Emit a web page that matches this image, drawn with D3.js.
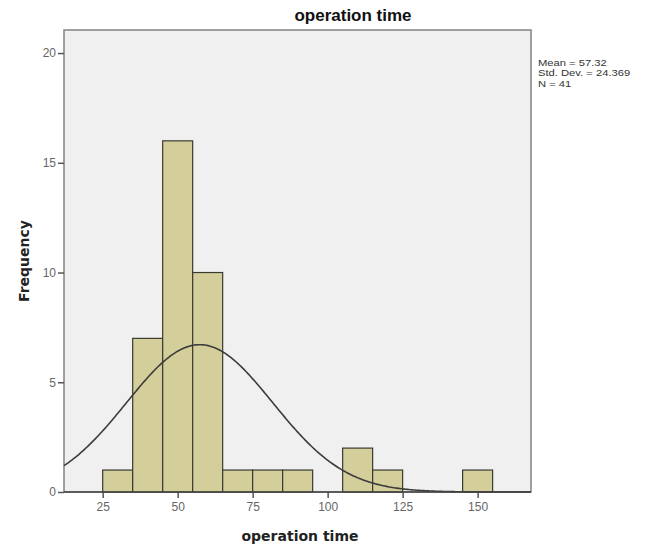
<!DOCTYPE html>
<html>
<head>
<meta charset="utf-8">
<script src="https://cdn.jsdelivr.net/npm/d3@7"></script>
<style>
  body { margin: 0; background: #fff; }
  svg { display: block; }
</style>
</head>
<body>
<div id="chart"></div>
<script>
// histogram bins (lower edge, width 10) and counts
const binLower = [25, 35, 45, 55, 65, 75, 85, 95, 105, 115, 125, 135, 145];
const binCounts = [1, 7, 16, 10, 1, 1, 1, 0, 2, 1, 0, 0, 1];
const binWidth = 10;
const xTicks = [25, 50, 75, 100, 125, 150];
const yTicks = [0, 5, 10, 15, 20];
const statMean = 57.32;
const statSd = 24.369;
const statN = 41;
const statLines = ['Mean = 57.32', 'Std. Dev. = 24.369', 'N = 41'];

const W = 653, H = 545;
const plotL = 64, plotR = 531, plotT = 30, plotB = 492;

const svg = d3.select('#chart').append('svg')
    .attr('width', W)
    .attr('height', H);

const x = d3.scaleLinear().domain([12.1, 167.8]).range([plotL, plotR]);
const y = d3.scaleLinear().domain([0, 21.05]).range([plotB, plotT]);

// plot background + frame
svg.append('rect')
    .attr('x', plotL).attr('y', plotT)
    .attr('width', plotR - plotL).attr('height', plotB - plotT)
    .attr('fill', '#f0f0f0')
    .attr('stroke', '#8a8a8a')
    .attr('stroke-width', 1.6);

// bars
svg.append('g').selectAll('rect')
    .data(binLower.map((b, i) => ({b: b, c: binCounts[i]})).filter(d => d.c > 0))
    .join('rect')
    .attr('x', d => x(d.b))
    .attr('y', d => y(d.c))
    .attr('width', d => x(d.b + binWidth) - x(d.b))
    .attr('height', d => y(0) - y(d.c))
    .attr('fill', '#d3ce9a')
    .attr('stroke', '#3a3a30')
    .attr('stroke-width', 1.2);

// normal curve scaled to counts
const pts = d3.range(x.domain()[0], x.domain()[1] + 0.01, 0.5).map(v => {
    const z = (v - statMean) / statSd;
    return [v, statN * binWidth * Math.exp(-0.5 * z * z) / (statSd * Math.sqrt(2 * Math.PI))];
});
svg.append('path')
    .datum(pts)
    .attr('fill', 'none')
    .attr('stroke', '#3c3c3c')
    .attr('stroke-width', 1.6)
    .attr('d', d3.line().x(d => x(d[0])).y(d => y(d[1])));

// axes
const xAxis = svg.append('g')
    .attr('transform', `translate(0,${plotB})`)
    .call(d3.axisBottom(x).tickValues(xTicks).tickSize(6).tickPadding(4).tickSizeOuter(0));
const yAxis = svg.append('g')
    .attr('transform', `translate(${plotL},0)`)
    .call(d3.axisLeft(y).tickValues(yTicks).tickSize(6).tickPadding(2).tickSizeOuter(0));

[xAxis, yAxis].forEach(a => {
    a.select('.domain').remove();
    a.selectAll('line').attr('stroke', '#555').attr('stroke-width', 1.5);
    a.selectAll('text')
        .attr('fill', '#666')
        .style('font-family', 'Liberation Sans, Arial, sans-serif')
        .style('font-size', '12px');
});

// baseline
svg.append('line')
    .attr('x1', plotL).attr('x2', plotR)
    .attr('y1', y(0)).attr('y2', y(0))
    .attr('stroke', '#444')
    .attr('stroke-width', 1.6);

// title
svg.append('text')
    .attr('x', 353).attr('y', 21)
    .attr('text-anchor', 'middle')
    .style('font-family', 'Liberation Sans, Arial, sans-serif')
    .style('font-weight', 'bold')
    .style('font-size', '17px')
    .attr('fill', '#111')
    .text('operation time');

// axis titles
svg.append('text')
    .attr('x', 300).attr('y', 541)
    .attr('text-anchor', 'middle')
    .style('font-family', 'DejaVu Sans, sans-serif')
    .style('font-weight', 'bold')
    .style('font-size', '14px')
    .attr('fill', '#222')
    .text('operation time');

svg.append('text')
    .attr('transform', 'translate(29,261) rotate(-90)')
    .attr('text-anchor', 'middle')
    .style('font-family', 'DejaVu Sans, sans-serif')
    .style('font-weight', 'bold')
    .style('font-size', '14px')
    .attr('fill', '#222')
    .text('Frequency');

// stats box text (squeezed a bit vertically like the original)
svg.append('g')
    .attr('transform', 'translate(538,0) scale(1.18,1)')
    .selectAll('text')
    .data(statLines)
    .join('text')
    .attr('x', 0)
    .attr('y', (d, i) => 66 + i * 10.5)
    .style('font-family', 'Liberation Sans, Arial, sans-serif')
    .style('font-size', '9.5px')
    .attr('fill', '#333')
    .text(d => d);
</script>
</body>
</html>
